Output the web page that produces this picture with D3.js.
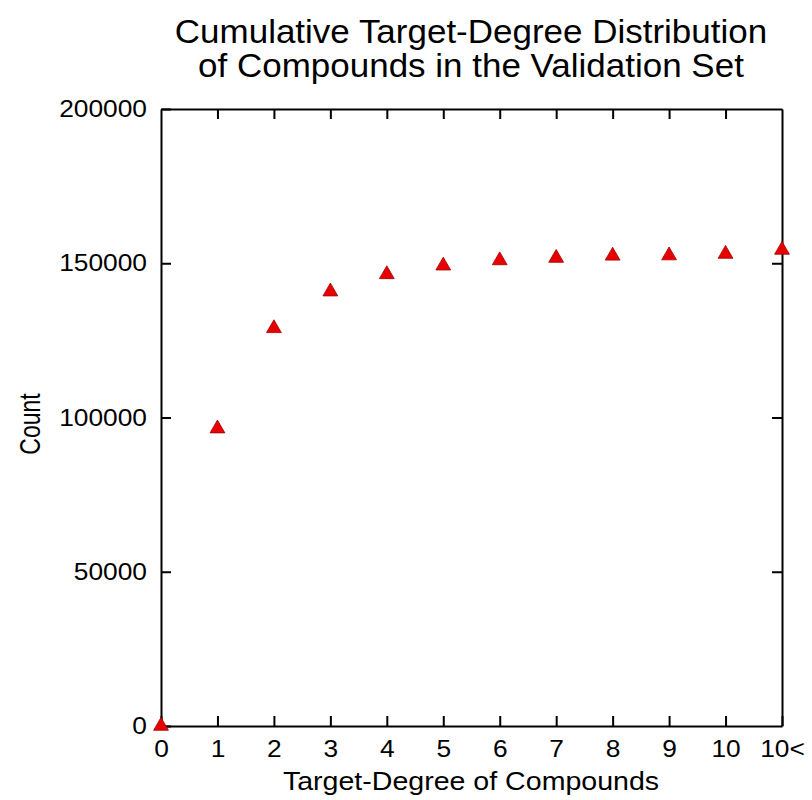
<!DOCTYPE html>
<html>
<head>
<meta charset="utf-8">
<script src="https://cdn.jsdelivr.net/npm/d3@7"></script>
<style>
  body { margin: 0; background: #fff; }
  text { font-family: "Liberation Sans", Arial, Helvetica, sans-serif; fill: #000; }
</style>
</head>
<body>
<svg id="chart" width="812" height="800"></svg>
<script>
// x positions 0..11, last one is the "10<" bin
var degrees = [0, 1, 2, 3, 4, 5, 6, 7, 8, 9, 10, 11];
var degreeLabels = ["0", "1", "2", "3", "4", "5", "6", "7", "8", "9", "10", "10<"];
var counts = [0, 96400, 128900, 140800, 146400, 149200, 150900, 151700, 152400, 152500, 153000, 154300];
var yTicks = [0, 50000, 100000, 150000, 200000];

var svg = d3.select("#chart"),
    margin = {top: 109, right: 30, bottom: 74, left: 161},
    width  = 812 - margin.left - margin.right,
    height = 800 - margin.top - margin.bottom;

var x = d3.scaleLinear().domain([0, 11]).range([0, width]);
var y = d3.scaleLinear().domain([0, 200000]).range([height, 0]);

// the original glyphs are a bit wider than Liberation Sans
function widen(sel, k) {
  sel.each(function() {
    var len = this.getComputedTextLength();
    d3.select(this).attr("textLength", len * k).attr("lengthAdjust", "spacingAndGlyphs");
  });
}

var g = svg.append("g")
  .attr("transform", "translate(" + margin.left + "," + margin.top + ")");

// title
svg.append("text").attr("class", "title")
  .attr("x", 471).attr("y", 43)
  .text("Cumulative Target-Degree Distribution");
svg.append("text").attr("class", "title")
  .attr("x", 471).attr("y", 77)
  .text("of Compounds in the Validation Set");
svg.selectAll(".title").attr("text-anchor", "middle").attr("font-size", 33);
widen(svg.selectAll(".title"), 1.06);

// frame axes, ticks pointing inward
var tickLen = 10;
function styleAxis(sel) {
  sel.select(".domain").attr("stroke", "#000").attr("stroke-width", 2);
  sel.selectAll(".tick line").attr("stroke", "#000").attr("stroke-width", 2);
  sel.selectAll("text").attr("font-size", 23.5)
    .attr("font-family", "Liberation Sans, Arial, sans-serif");
}

var xAxis = g.append("g")
  .attr("transform", "translate(0," + height + ")")
  .call(d3.axisBottom(x).tickValues(degrees)
    .tickFormat(function(d, i) { return degreeLabels[i]; })
    .tickSizeInner(-tickLen).tickSizeOuter(0).tickPadding(tickLen + 4));
styleAxis(xAxis);
widen(xAxis.selectAll("text"), 1.12);

var xTop = g.append("g")
  .call(d3.axisTop(x).tickValues(degrees.slice(1, 11))
    .tickFormat("").tickSizeInner(-tickLen).tickSizeOuter(0));
styleAxis(xTop);

var yAxis = g.append("g")
  .call(d3.axisLeft(y).tickValues(yTicks).tickFormat(d3.format("d"))
    .tickSizeInner(-tickLen).tickSizeOuter(0).tickPadding(tickLen + 4));
styleAxis(yAxis);
widen(yAxis.selectAll("text"), 1.12);

var yRight = g.append("g")
  .attr("transform", "translate(" + width + ",0)")
  .call(d3.axisRight(y).tickValues(yTicks.slice(1, 4))
    .tickFormat("").tickSizeInner(-tickLen).tickSizeOuter(0));
styleAxis(yRight);

// axis labels
var xLabel = svg.append("text")
  .attr("x", 471).attr("y", 790)
  .attr("text-anchor", "middle")
  .attr("font-size", 25.5)
  .text("Target-Degree of Compounds");
widen(xLabel, 1.12);

svg.append("text")
  .attr("transform", "translate(40,424) rotate(-90) scale(1,1.3)")
  .attr("text-anchor", "middle")
  .attr("font-size", 23)
  .text("Count");

// points
var tri = d3.symbol().type(d3.symbolTriangle).size(95);
g.selectAll(".pt")
  .data(counts)
  .enter().append("path")
  .attr("class", "pt")
  .attr("d", tri)
  .attr("transform", function(d, i) { return "translate(" + x(degrees[i]) + "," + y(d) + ")"; })
  .attr("fill", "#e80000")
  .attr("stroke", "#a00000")
  .attr("stroke-width", 0.8);
</script>
</body>
</html>
